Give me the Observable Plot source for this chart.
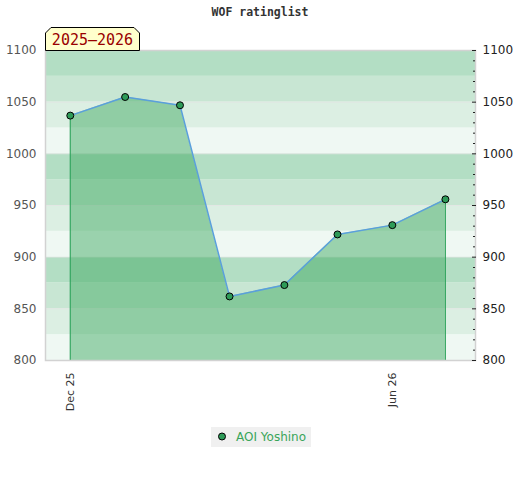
<!DOCTYPE html>
<html>
<head>
<meta charset="utf-8">
<script src="https://cdn.jsdelivr.net/npm/d3@7"></script>
<script src="https://cdn.jsdelivr.net/npm/@observablehq/plot@0.6"></script>
<style>
  body { margin: 0; background: #fff; }
  #wrap { position: relative; width: 520px; height: 480px; font-family: "DejaVu Sans", sans-serif; }
  #wrap svg { position: absolute; left: 0; top: 0; }
  #title { position: absolute; left: 0; top: 5px; width: 520px; text-align: center; font: bold 11.5px "DejaVu Sans Mono", monospace; color: #333; }
  #legend { position: absolute; left: 211px; top: 427px; width: 100px; height: 20px; background: #f0f0f0; }
</style>
</head>
<body>
<div id="wrap">
  <div id="chart"></div>
  <div id="title">WOF ratinglist</div>
  <svg id="season" width="150" height="60" style="left:0;top:0">
    <polygon points="45.5,50.5 45.5,33 51,27.5 134,27.5 139.5,33 139.5,50.5" fill="#ffffcc" stroke="#000" stroke-width="1"></polygon>
    <text x="92.5" y="45" text-anchor="middle" font-family="DejaVu Sans Mono, monospace" font-size="15" fill="#990000">2025–2026</text>
  </svg>
  <div id="legend">
    <svg width="100" height="20">
      <circle cx="11" cy="9.5" r="3.5" fill="#2e9b58" stroke="#000" stroke-width="1"></circle>
      <text x="25" y="13.5" font-family="DejaVu Sans, sans-serif" font-size="12" fill="#3aa55a">AOI Yoshino</text>
    </svg>
  </div>
</div>
<script>
// Data
const months = ["2025-12-01","2026-01-01","2026-02-01","2026-03-01","2026-04-01","2026-05-01","2026-06-01","2026-07-01"];
const ratings = [1037, 1055, 1047, 862, 873, 922, 931, 956];
const player = "AOI Yoshino";
const yMajorTicks = [800, 850, 900, 950, 1000, 1050, 1100];
const xTickDates = ["2025-12-01", "2026-06-01"];
const bandColors = ["#eff8f3", "#dcefe3", "#c8e6d3", "#b3dec4"];

const data = months.map((m, i) => ({date: new Date(m + "T00:00:00Z"), rating: ratings[i], player}));
const bands = d3.range(800, 1100, 25).map((v, i) => ({y1: v, y2: v + 25, fill: bandColors[i % 4]}));
const minorTicks = d3.range(810, 1100, 10).filter(v => v % 50 !== 0);
const first = data[0], last = data[data.length - 1];
const fmt = d3.format("d");

const chart = Plot.plot({
  width: 520,
  height: 420,
  marginTop: 50,
  marginBottom: 60,
  marginLeft: 45,
  marginRight: 45,
  style: {fontFamily: "DejaVu Sans, sans-serif", fontSize: "12px", background: "transparent"},
  x: {type: "utc", domain: [new Date("2025-11-17T00:00:00Z"), new Date("2026-07-18T00:00:00Z")]},
  y: {domain: [800, 1100]},
  marks: [
    Plot.rect(bands, {y1: "y1", y2: "y2", fill: "fill"}),
    Plot.ruleY(yMajorTicks.slice(1, -1), {stroke: "#e4e4e4", strokeWidth: 1, strokeOpacity: 0.7}),
    Plot.areaY(data, {x: "date", y1: 800, y2: "rating", fill: "rgb(60,167,94)", fillOpacity: 0.47}),
    Plot.ruleX([first, last], {x: "date", y1: 800, y2: "rating", stroke: "#2ca25a", strokeWidth: 1}),
    Plot.line(data, {x: "date", y: "rating", stroke: "#5a9fdc", strokeWidth: 1.5}),
    Plot.dot(data, {x: "date", y: "rating", r: 3.5, fill: "#2e9b58", stroke: "#000", strokeWidth: 1}),
    Plot.frame({stroke: "#d2d2d2", strokeWidth: 1.5}),
    Plot.axisY({anchor: "left", ticks: yMajorTicks, tickFormat: fmt, tickSize: 0, tickPadding: 9, fill: "#555", label: null}),
    Plot.axisY({anchor: "right", ticks: yMajorTicks, tickSize: 4, dx: -4, text: null, stroke: "#222", label: null}),
    Plot.axisY({anchor: "right", ticks: minorTicks, tickSize: 2, dx: -3, text: null, stroke: "#222", label: null}),
    Plot.axisY({anchor: "right", ticks: yMajorTicks, tickFormat: fmt, tickSize: 0, tickPadding: 7, fill: "#222", label: null}),
    Plot.axisX({ticks: xTickDates.map(d => new Date(d + "T00:00:00Z")), tickFormat: d3.utcFormat("%b %y"), tickRotate: -90, tickSize: 0, tickPadding: 12, fill: "#333", fontSize: 11, label: null})
  ]
});
document.getElementById("chart").appendChild(chart);
</script>
</body>
</html>
